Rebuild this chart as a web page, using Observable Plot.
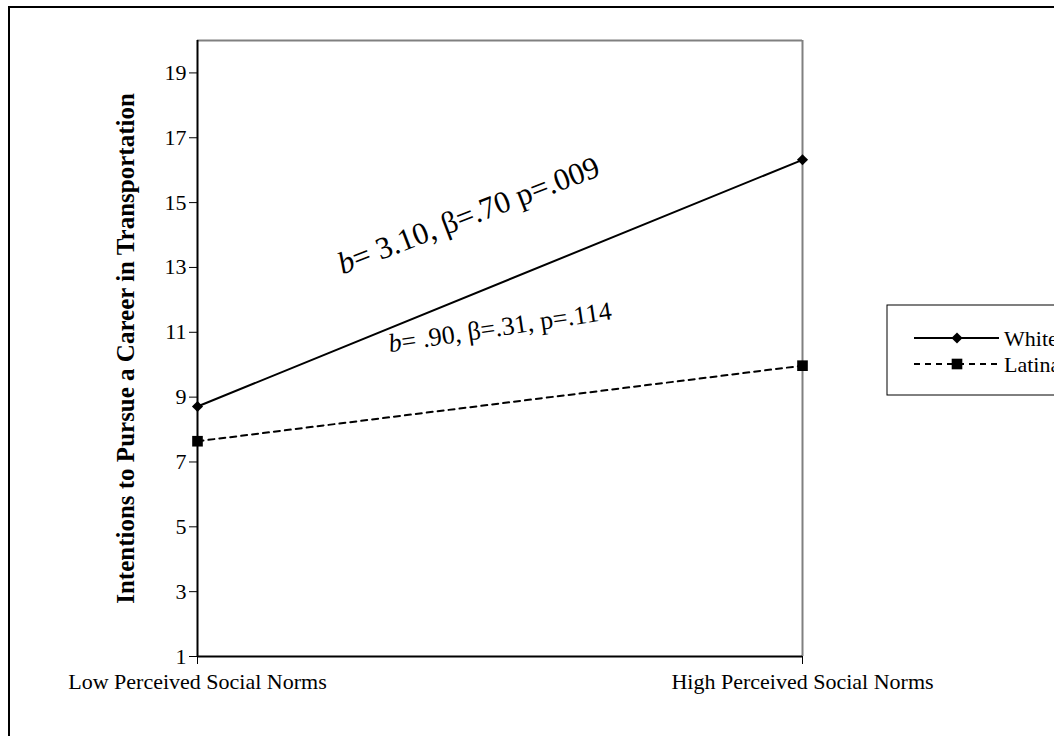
<!DOCTYPE html>
<html><head><meta charset="utf-8">
<script src="https://cdn.jsdelivr.net/npm/d3@7"></script>
<script src="https://cdn.jsdelivr.net/npm/@observablehq/plot@0.6"></script>
<style>
body{margin:0;background:#fff;overflow:hidden;width:1054px;height:736px;}
#wrap{position:relative;width:1054px;height:736px;overflow:hidden;}
#border{position:absolute;left:8px;top:6px;width:1200px;height:900px;border:2px solid #000;box-sizing:border-box;}
#chart{position:absolute;left:0;top:0;}
#chart [aria-label^="x-axis"] text, #chart [aria-label^="y-axis"] text{font-size:22px;}
</style></head><body><div id="wrap"><div id="border"></div><div id="chart"></div></div>
<script>
const conditions = ["Low Perceived Social Norms", "High Perceived Social Norms"];
const seriesNames = ["White", "Latina"];
const whiteValues = [8.71, 16.32];
const latinaValues = [7.64, 9.97];
const yTicks = [1, 3, 5, 7, 9, 11, 13, 15, 17, 19];
const yTitle = "Intentions to Pursue a Career in Transportation";
const annotationTexts = ["b= 3.10, β=.70 p=.009", "b= .90, β=.31, p=.114"];

const whiteRows = conditions.map((c, i) => ({x: i, y: whiteValues[i], series: seriesNames[0]}));
const latinaRows = conditions.map((c, i) => ({x: i, y: latinaValues[i], series: seriesNames[1]}));

const font = "'Liberation Serif', 'Times New Roman', serif";

const plot = Plot.plot({
  width: 1054, height: 736,
  marginLeft: 197, marginRight: 252, marginTop: 40, marginBottom: 80,
  style: {fontFamily: font, fontSize: "22px", color: "#000", background: "transparent", overflow: "visible"},
  x: {type: "linear", domain: [0, 1], ticks: [0, 1], tickFormat: i => conditions[i], tickSize: 8, tickPadding: 9, label: null},
  y: {domain: [1, 20], ticks: yTicks, tickSize: 8, tickPadding: 3, label: null},
  marks: [
    Plot.ruleY([20], {stroke: "#808080", strokeWidth: 2}),
    Plot.ruleX([1], {stroke: "#808080", strokeWidth: 2}),
    Plot.ruleX([0], {stroke: "#000", strokeWidth: 2}),
    Plot.ruleY([1], {stroke: "#000", strokeWidth: 2}),
    Plot.line(whiteRows, {x: "x", y: "y", stroke: "#000", strokeWidth: 2}),
    Plot.line(latinaRows, {x: "x", y: "y", stroke: "#000", strokeWidth: 2, strokeDasharray: "6,5"}),
    Plot.dot(whiteRows, {x: "x", y: "y", symbol: "diamond2", r: 5, fill: "#000", stroke: "none"}),
    Plot.dot(latinaRows, {x: "x", y: "y", symbol: "square", r: 6, fill: "#000", stroke: "none"}),
    Plot.text([annotationTexts[0]], {x: () => 0.448, y: () => 14.6, rotate: -21, fontSize: 31, fill: "#000"}),
    Plot.text([annotationTexts[1]], {x: () => 0.5, y: () => 11.15, rotate: -8.5, fontSize: 26, fill: "#000"}),
    Plot.text([yTitle], {frameAnchor: "left", textAnchor: "middle", rotate: -90, dx: -72, dy: 0, fontWeight: "bold", fontSize: 25, fill: "#000"})
  ]
});
document.getElementById("chart").appendChild(plot);

// italic "b" in annotations
const svg = d3.select(plot);
svg.selectAll("text").each(function() {
  const t = d3.select(this);
  const s = this.textContent;
  if (this.childElementCount === 0 && annotationTexts.includes(s)) {
    t.text(null);
    t.append("tspan").attr("font-style", "italic").text(s.slice(0, 1));
    t.append("tspan").text(s.slice(1));
  }
});

// legend
const lg = svg.append("g").attr("font-family", font).attr("font-size", 22).attr("text-anchor", "start");
lg.append("rect").attr("x", 887).attr("y", 305).attr("width", 300).attr("height", 90)
  .attr("fill", "#fff").attr("stroke", "#000").attr("stroke-width", 1);
const rowsY = [338, 364];
seriesNames.forEach((name, i) => {
  const y = rowsY[i];
  lg.append("line").attr("x1", 914).attr("x2", 999).attr("y1", y).attr("y2", y)
    .attr("stroke", "#000").attr("stroke-width", 2).attr("stroke-dasharray", i ? "6,5" : null);
  lg.append("path").attr("transform", `translate(957,${y})`)
    .attr("d", d3.symbol(i ? d3.symbolSquare : d3.symbolDiamond2, i ? 113 : 79)())
    .attr("fill", "#000");
  lg.append("text").attr("x", 1004).attr("y", y).attr("dy", "0.35em").attr("text-anchor", "start").text(name);
});
</script></body></html>
